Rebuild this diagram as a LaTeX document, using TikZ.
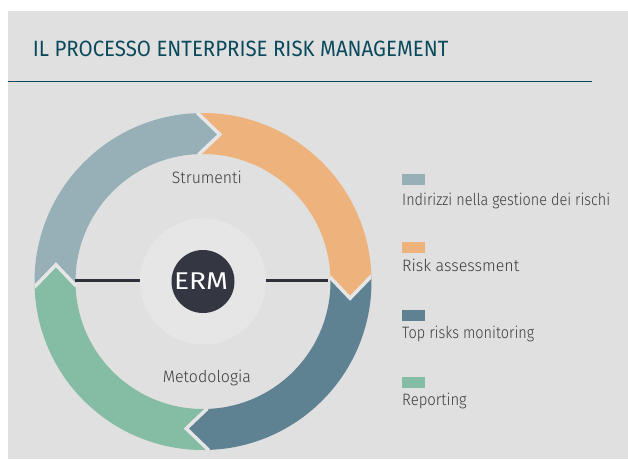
\documentclass[tikz,border=0pt]{standalone}
\usepackage{fontspec}
\setmainfont{Fira Sans}
\newfontfamily\lightfont{Fira Sans Light}
\newfontfamily\titlefont{Fira Sans}
\definecolor{bg}{HTML}{E0E0E0}
\definecolor{gapc}{HTML}{E6E6E6}
\definecolor{hubc}{HTML}{E5E6E5}
\definecolor{titlec}{HTML}{0B4A5C}
\definecolor{segA}{HTML}{97B0B8}
\definecolor{segB}{HTML}{EEB27C}
\definecolor{segC}{HTML}{5F8292}
\definecolor{segD}{HTML}{85BCA4}
\definecolor{ermc}{HTML}{343641}
\definecolor{txt}{HTML}{3C3C3C}
\definecolor{barc}{HTML}{2E303A}
\tikzset{
  legsq/.style={minimum width=23pt,minimum height=11pt,inner sep=0pt,anchor=south west},
  legtxt/.style={inner sep=0pt,anchor=base west,text=txt},
  gapline/.style={draw=gapc,line width=3.5pt,line join=miter},
  bar/.style={draw=barc,line width=3pt}
}
\newcommand{\segpath}[2]{% tail angle, head angle
  (#1:168.5pt) arc[start angle=#1,end angle=#2,radius=168.5pt]
  -- (#2-8.5:148pt) -- (#2:127.5pt)
  arc[start angle=#2,end angle=#1,radius=127.5pt]
  -- (#1-8.5:148pt) -- cycle}
\newcommand{\lt}[2]{\resizebox{#1}{\height}{\fontsize{16.5pt}{19pt}\lightfont #2}}
\begin{document}
\begin{tikzpicture}[x=1pt,y=1pt]
\useasboundingbox (0,0) rectangle (628,459);
\fill[white] (0,0) rectangle (628,459);
\fill[bg] (8,0) rectangle (628,448);
% title
\node[inner sep=0pt,anchor=south west,text=titlec] (title) at (32.7,401.7)
  {\resizebox{415.5pt}{15.5pt}{\titlefont IL PROCESSO ENTERPRISE RISK MANAGEMENT}};
\coordinate (tl1) at (8,377.7);
\coordinate (tl2) at (592,377.7);
\draw[titlec,line width=1.3pt] (tl1) -- (tl2);
% ring
\coordinate (C) at (203,177.5);
\begin{scope}[shift={(C)}]
  \fill[segA] \segpath{182}{92};
  \fill[segB] \segpath{92}{2};
  \fill[segC] \segpath{2}{-88};
  \fill[segD] \segpath{-88}{-178};
  \begin{scope}
    \clip (0,0) circle (168.5pt);
    \foreach \b in {92,2,-88,182}{
      \draw[gapline] (\b:169pt) -- (\b-8.5:148pt) -- (\b:127pt);
    }
  \end{scope}
\end{scope}
% hub
\node[circle,fill=hubc,minimum size=126pt,inner sep=0pt] (hub) at (C) {};
\node[circle,fill=ermc,minimum size=63pt,inner sep=0pt] (erm) at (C) {};
\node[inner sep=0pt,text=white] (ermtxt) at (201,177.5) {\resizebox{54pt}{16.7pt}{ERM}};
\coordinate (ringL) at (75,178.5);
\coordinate (ringR) at (328,178.5);
\coordinate (hubL) at (140,178.5);
\coordinate (hubR) at (266,178.5);
\draw[bar] (ringL) -- (hubL);
\draw[bar] (hubR) -- (ringR);
% labels
\node[legtxt] (strum) at (171.7,275.7) {\lt{70pt}{Strumenti}};
\node[legtxt] (metod) at (162.7,76.5) {\lt{88pt}{Metodologia}};
% legend
\node[legsq,fill=segA] (sq1) at (402,274) {};
\node[legsq,fill=segB] (sq2) at (402,206.3) {};
\node[legsq,fill=segC] (sq3) at (402,138) {};
\node[legsq,fill=segD] (sq4) at (402,70.7) {};
\node[legtxt] (l1) at (402,253.3) {\lt{208pt}{Indirizzi nella gestione dei rischi}};
\node[legtxt] (l2) at (402,187.3) {\lt{117pt}{Risk assessment}};
\node[legtxt] (l3) at (402,120.7) {\lt{132pt}{Top risks monitoring}};
\node[legtxt] (l4) at (402,54) {\lt{64.5pt}{Reporting}};
\end{tikzpicture}
\end{document}
